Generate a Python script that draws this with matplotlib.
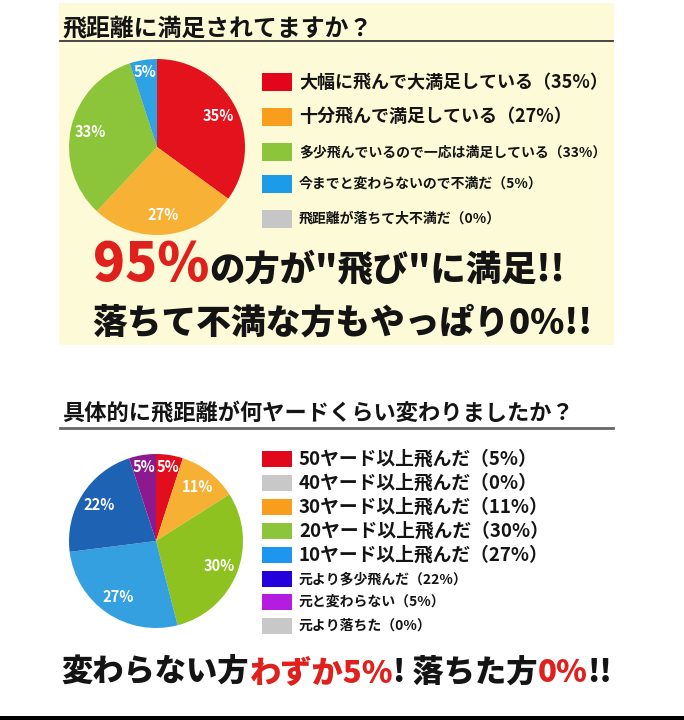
import matplotlib
matplotlib.use("Agg")
import matplotlib.pyplot as plt
from matplotlib.patches import Rectangle

plt.rcParams['font.family'] = ['Noto Sans CJK JP', 'DejaVu Sans']

# --- data -------------------------------------------------------------
q1_title = "飛距離に満足されてますか？"
q1_labels = ["大幅に飛んで大満足している", "十分飛んで満足している",
             "多少飛んでいるので一応は満足している", "今までと変わらないので不満だ",
             "飛距離が落ちて大不満だ"]
q1_values = [35, 27, 33, 5, 0]
q1_pie_colors = ["#e3121c", "#f7b134", "#8cc43a", "#2fa2e4", "#c8c8c8"]
q1_key_colors = ["#e2051b", "#f99d1c", "#8cc43c", "#1b9be9", "#c6c6c6"]

q2_title = "具体的に飛距離が何ヤードくらい変わりましたか？"
q2_labels = ["50ヤード以上飛んだ", "40ヤード以上飛んだ", "30ヤード以上飛んだ",
             "20ヤード以上飛んだ", "10ヤード以上飛んだ", "元より多少飛んだ",
             "元と変わらない", "元より落ちた"]
q2_values = [5, 0, 11, 30, 27, 22, 5, 0]
q2_pie_colors = ["#e20d1d", "#c8c8c8", "#f6b135", "#8ec220", "#35a0e0",
                 "#1e62b3", "#8c1a8e", "#c8c8c8"]
q2_key_colors = ["#e2081b", "#c8c8c8", "#f99d1c", "#8cc43c", "#1d96ef",
                 "#2400dc", "#b41ce0", "#c8c8c8"]

# headline texts: (text, is_red)
q1_line1 = [("95%", True), ('の方が"飛び"に満足!!', False)]
q1_line2 = [("落ちて不満な方もやっぱり0%!!", False)]
q2_line = [("変わらない方", False), ("わずか5%", True), ("! 落ちた方", False),
           ("0%", True), ("!!", False)]

RED = "#e0201c"
INK = "#141414"

W, H = 684, 720
fig = plt.figure(figsize=(W / 100, H / 100), dpi=100)
fig.patch.set_facecolor("white")
bg = fig.add_axes([0, 0, 1, 1])
bg.set_xlim(0, W)
bg.set_ylim(H, 0)
bg.axis("off")
r = fig.canvas.get_renderer()

# panels / rules
bg.add_patch(Rectangle((59, 3), 555, 342, fc="#fdfad7", ec="none"))
bg.add_patch(Rectangle((0, 716), W, 4, fc="black", ec="none"))
bg.plot([60, 613], [41, 41], color="#3a3a3a", lw=1.3)
bg.plot([60, 613], [428, 428], color="#666666", lw=2)

bg.text(62, 28, q1_title, fontsize=17.2, weight="bold", color=INK, va="center")
bg.text(62, 413, q2_title, fontsize=16, weight="bold", color=INK, va="center")


def pie_at(cx, cy, rad, values, colors):
    ax = fig.add_axes([(cx - rad) / W, 1 - (cy + rad) / H, 2 * rad / W, 2 * rad / H])
    _, _, autotexts = ax.pie(values, colors=colors, startangle=90, counterclock=False,
                             autopct=lambda p: f"{p:.0f}%" if p > 0.5 else "",
                             pctdistance=0.78,
                             textprops=dict(color="white", fontsize=10.5, weight="bold"),
                             wedgeprops=dict(linewidth=0))
    # narrow slices carry their label further out, near the rim
    for t, v in zip(autotexts, values):
        if 0 < v <= 5:
            x, y = t.get_position()
            t.set_position((x * 1.1, y * 1.1))
    ax.set_xlim(-1, 1)
    ax.set_ylim(-1, 1)
    return ax


pie_at(157, 147, 88, q1_values, q1_pie_colors)
pie_at(156, 541, 87, q2_values, q2_pie_colors)

# legends
q1_rows = [82, 117, 152, 184, 219]
q1_sizes = [13, 13, 10, 10, 10]
for lab, v, c, y, fs in zip(q1_labels, q1_values, q1_key_colors, q1_rows, q1_sizes):
    bg.add_patch(Rectangle((262, y - 9), 30, 18, fc=c, ec="none"))
    bg.text(299, y, f"{lab}（{v}%）", fontsize=fs, weight="bold", color=INK, va="center")

q2_rows = [459, 483, 507, 531, 555, 579, 602, 626]
q2_sizes = [13.5, 13.5, 13.5, 13.5, 13.5, 10, 10, 10]
for lab, v, c, y, fs in zip(q2_labels, q2_values, q2_key_colors, q2_rows, q2_sizes):
    bg.add_patch(Rectangle((262, y - 8), 30, 16, fc=c, ec="none"))
    bg.text(299, y, f"{lab}（{v}%）", fontsize=fs, weight="bold", color=INK, va="center")


def chain(parts, x, y, sizes):
    for (s, red), fs in zip(parts, sizes):
        t = bg.text(x, y, s, fontsize=fs, weight="heavy", color=RED if red else INK,
                    va="baseline", ha="left")
        bb = t.get_window_extent(renderer=r)
        x = bg.transData.inverted().transform((bb.x1, bb.y0))[0]


chain(q1_line1, 93, 281, [38, 25.5])
chain(q1_line2, 92, 334, [25])
chain(q2_line, 62, 682, [22.5, 22.5, 22.5, 22.5, 22.5])

fig.savefig("out.png", dpi=100, facecolor="white")
